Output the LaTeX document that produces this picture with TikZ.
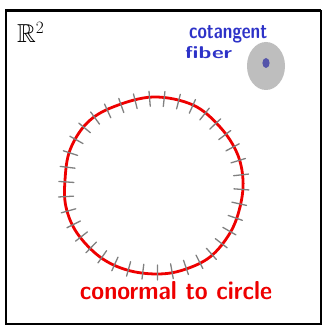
\documentclass[tikz,border=0pt]{standalone}
\usepackage{amssymb}
\usepackage{graphicx}
\usetikzlibrary{decorations.markings}
\definecolor{redline}{RGB}{238,0,0}
\definecolor{tickgray}{RGB}{128,128,128}
\definecolor{diskgray}{RGB}{190,190,190}
\definecolor{dotblue}{RGB}{85,85,170}
\definecolor{penblue}{RGB}{45,50,200}
\tikzset{
  frame/.style={draw=black, line width=2pt},
  curve/.style={draw=redline, line width=2.8pt, line join=round},
  ticks/.style={postaction={decorate, decoration={markings,
     mark=between positions 0 and 0.99 step 0.0263 with {\draw[tickgray, line width=1.3pt, line cap=round] (0,-6) -- (0,9);}}}},
  txt/.style={inner sep=0pt},
  bluetxt/.style={txt, text=penblue, anchor=base west}
}
\begin{document}
\begin{tikzpicture}[x=1pt,y=-1pt]
\useasboundingbox (0,0) rectangle (322,326);
\fill[white] (0,0) rectangle (322,326);
\draw[frame] (5.5,11) rectangle (320.5,323.5);
\draw[black, line width=3pt] (5,11) -- (321,11);
% R^2
\node[txt, anchor=base west, font=\fontsize{26}{26}\selectfont] (R2) at (17,43) {$\mathbb{R}^{2}$};
% cotangent fiber
\node[bluetxt] (cot) at (189,39) {\resizebox{78pt}{13pt}{\sffamily\bfseries cotangent}};
\node[bluetxt] (fib) at (185,59) {\resizebox{47pt}{12pt}{\sffamily\bfseries fiber}};
\fill[diskgray] (266,66) ellipse [x radius=19, y radius=24];
\fill[dotblue] (266,63) ellipse [x radius=3.6, y radius=5];
\node[inner sep=0pt] (fiber) at (266,66) {};
% conormal curve
\path[curve, ticks] plot[smooth cycle, tension=0.6] coordinates {
 (153,97) (193,105) (220,127) (237,153) (243,180) (240,207) (230,233)
 (210,257) (183,270) (157,274) (127,270) (100,257) (77,233) (66,207)
 (65,180) (70,150) (87,123) (113,107)};
\node[txt, text=redline, anchor=base] (cc) at (176,299)
  {\resizebox{192pt}{18pt}{\sffamily\bfseries conormal to circle}};
\end{tikzpicture}
\end{document}
